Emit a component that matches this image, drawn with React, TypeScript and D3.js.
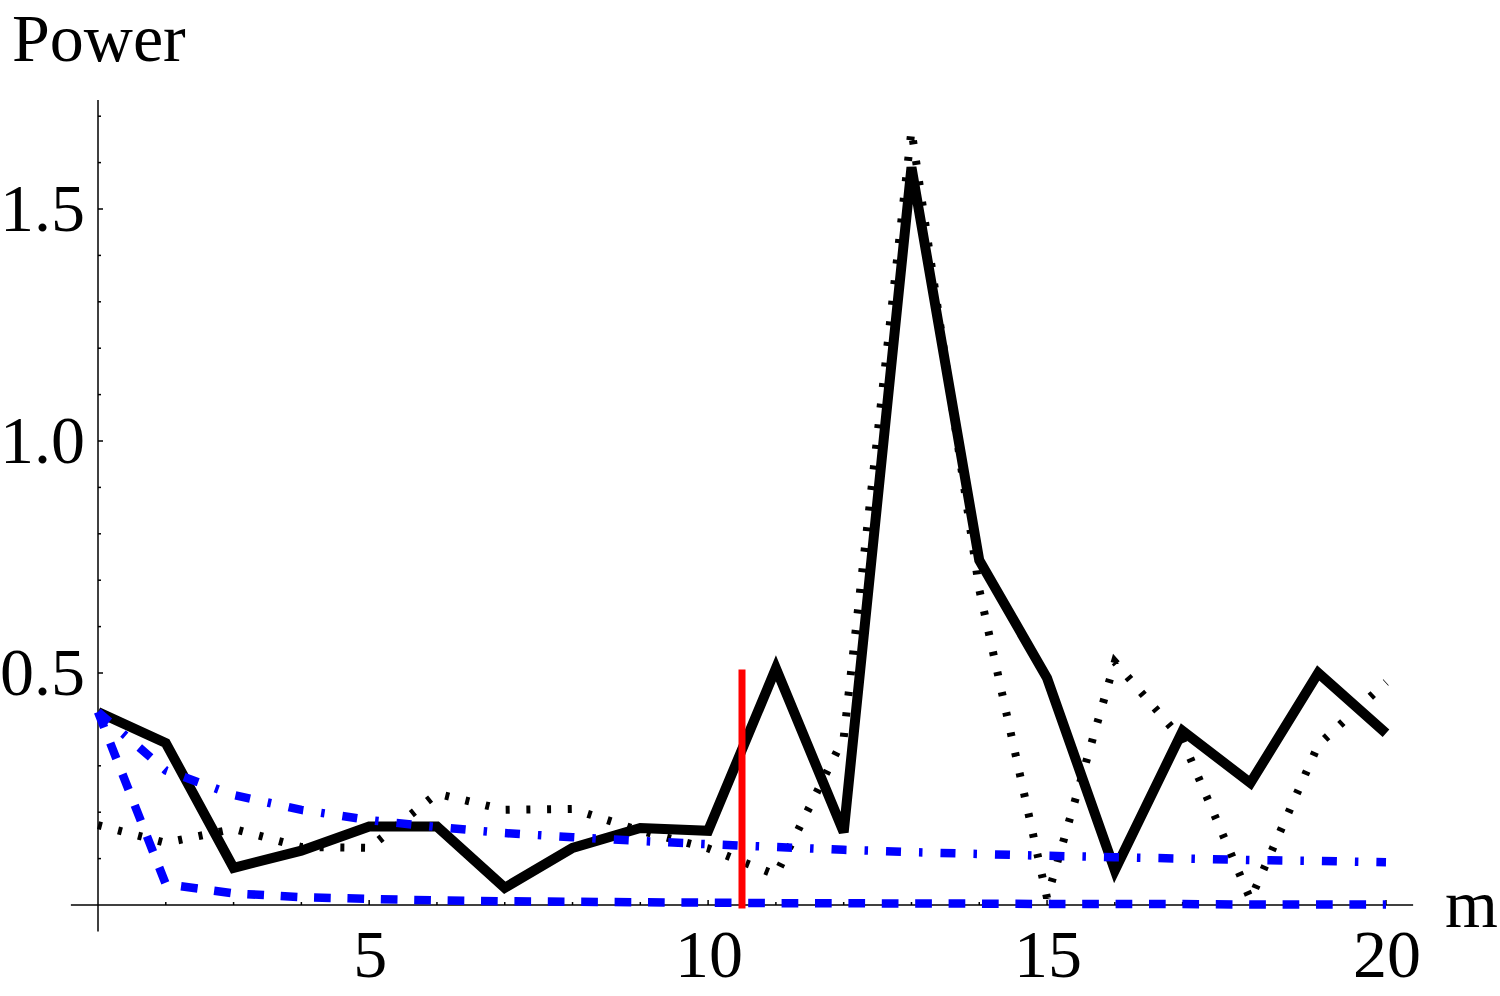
import React, { useEffect, useRef } from "react";
import * as d3 from "d3";

// m values along the x axis
const steps = [1, 2, 3, 4, 5, 6, 7, 8, 9, 10, 11, 12, 13, 14, 15, 16, 17, 18, 19, 20];

// series
const solidPower = [0.416, 0.349, 0.08, 0.117, 0.169, 0.169, 0.037, 0.123, 0.166, 0.16, 0.51, 0.157, 1.59, 0.743, 0.489, 0.075, 0.375, 0.263, 0.5, 0.37];
const dottedPower = [0.172, 0.134, 0.164, 0.125, 0.123, 0.24, 0.205, 0.207, 0.16, 0.122, 0.065, 0.36, 1.67, 0.68, 0.015, 0.524, 0.355, 0.012, 0.345, 0.48];
const dashDotPower = [0.416, 0.29, 0.237, 0.205, 0.183, 0.168, 0.155, 0.146, 0.138, 0.131, 0.125, 0.119, 0.114, 0.11, 0.106, 0.103, 0.1, 0.097, 0.095, 0.092];
const dashedPower = [0.416, 0.045, 0.025, 0.017, 0.013, 0.01, 0.008, 0.007, 0.006, 0.005, 0.004, 0.004, 0.003, 0.003, 0.002, 0.002, 0.002, 0.001, 0.001, 0.001];

// red marker
const cutoffM = 10.5;
const cutoffPower = 0.5;

// ticks
const xMinorTicks = [2, 3, 4, 5, 6, 7, 8, 9, 10, 11, 12, 13, 14, 15, 16, 17, 18, 19, 20];
const xLabels = [5, 10, 15, 20];
const yMinorTicks = [0.1, 0.2, 0.3, 0.4, 0.5, 0.6, 0.7, 0.8, 0.9, 1.0, 1.1, 1.2, 1.3, 1.4, 1.5, 1.6, 1.7];
const yLabels = [0.5, 1.0, 1.5];

const FONT = "'Liberation Serif', 'Times New Roman', serif";

export default function App() {
  const ref = useRef<SVGSVGElement>(null);

  useEffect(() => {
    const svg = d3.select(ref.current);
    svg.selectAll("*").remove();

    const x = d3.scaleLinear().domain([1, 20]).range([98, 1386]);
    const y = d3.scaleLinear().domain([0, 1.5]).range([905, 209]);

    // axes
    const axes = svg.append("g").attr("stroke", "black").attr("stroke-width", 1.5);
    axes.append("line")
      .attr("x1", x(0.6)).attr("x2", x(20.4))
      .attr("y1", y(0)).attr("y2", y(0));
    axes.append("line")
      .attr("x1", x(1)).attr("x2", x(1))
      .attr("y1", y(-0.057)).attr("y2", y(1.735));

    // x ticks point up into the plot
    axes.selectAll(".xt")
      .data(xMinorTicks)
      .join("line")
      .attr("class", "xt")
      .attr("x1", (d) => x(d)).attr("x2", (d) => x(d))
      .attr("y1", y(0))
      .attr("y2", (d) => y(0) - (d % 5 === 0 ? 5 : 3));

    // y ticks point right
    axes.selectAll(".yt")
      .data(yMinorTicks)
      .join("line")
      .attr("class", "yt")
      .attr("x1", x(1))
      .attr("x2", (d) => x(1) + (Math.round(d * 10) % 5 === 0 ? 5 : 3))
      .attr("y1", (d) => y(d)).attr("y2", (d) => y(d));

    svg.selectAll(".xl")
      .data(xLabels)
      .join("text")
      .attr("class", "xl")
      .attr("x", (d) => x(d) + 1)
      .attr("y", 977)
      .attr("text-anchor", "middle")
      .attr("font-family", FONT)
      .attr("font-size", 68)
      .text((d) => d);

    svg.selectAll(".yl")
      .data(yLabels)
      .join("text")
      .attr("class", "yl")
      .attr("x", 85)
      .attr("y", (d) => y(d) + 22)
      .attr("text-anchor", "end")
      .attr("font-family", FONT)
      .attr("font-size", 68)
      .text((d) => d.toFixed(1));

    svg.append("text")
      .attr("x", 12).attr("y", 61)
      .attr("font-family", FONT).attr("font-size", 68)
      .text("Power");

    svg.append("text")
      .attr("x", 1445).attr("y", 927)
      .attr("font-family", FONT).attr("font-size", 68)
      .text("m");

    const line = (vals: number[]) =>
      d3.line<number>()
        .x((_, i) => x(steps[i]))
        .y((d) => y(d))(vals);

    svg.append("path")
      .attr("d", line(solidPower))
      .attr("fill", "none").attr("stroke", "black").attr("stroke-width", 10);

    svg.append("path")
      .attr("d", line(dottedPower))
      .attr("fill", "none").attr("stroke", "black").attr("stroke-width", 8)
      .attr("stroke-dasharray", "4,16.7");

    svg.append("path")
      .attr("d", line(dashDotPower))
      .attr("fill", "none").attr("stroke", "blue").attr("stroke-width", 8.5)
      .attr("stroke-dasharray", "15,18,3.5,18");

    svg.append("path")
      .attr("d", line(dashedPower))
      .attr("fill", "none").attr("stroke", "blue").attr("stroke-width", 8.5)
      .attr("stroke-dasharray", "16.7,16.7");

    svg.append("line")
      .attr("x1", x(cutoffM)).attr("x2", x(cutoffM))
      .attr("y1", y(0)).attr("y2", y(cutoffPower))
      .attr("stroke", "red").attr("stroke-width", 7)
      .attr("stroke-linecap", "square");
  }, []);

  return (
    <svg
      ref={ref}
      width={1500}
      height={996}
      style={{ position: "absolute", left: 0, top: 0, background: "white" }}
    />
  );
}
